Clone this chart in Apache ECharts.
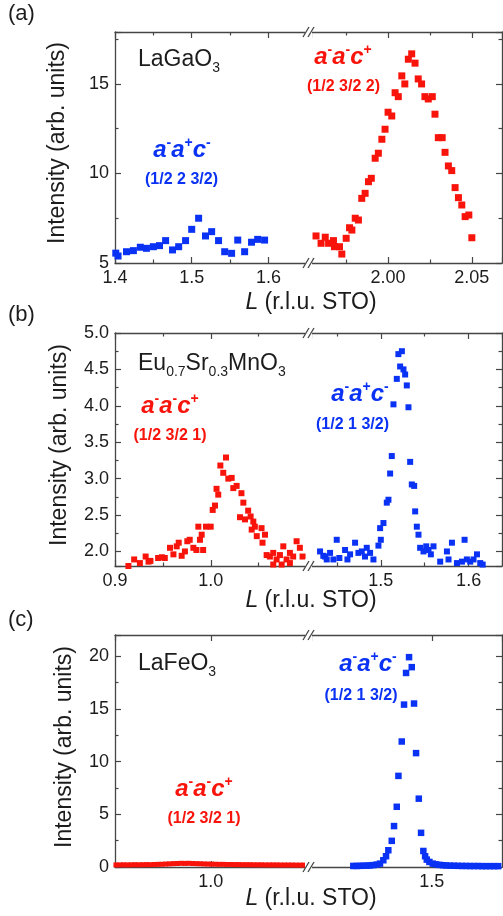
<!DOCTYPE html>
<html>
<head>
<meta charset="utf-8">
<script src="https://cdn.jsdelivr.net/npm/echarts@6/dist/echarts.min.js"></script>
<style>
html, body { margin: 0; padding: 0; background: #fff; }
#chart { width: 503px; height: 916px; }
</style>
</head>
<body>
<div id="chart"></div>
<script>
// colours / font
var FONT = '"Liberation Sans", Arial, Helvetica, sans-serif';
var RED = '#f8140b', BLUE = '#0a32f4', AX = '#454545', TXT = '#1c1c1c';

// (a) LaGaO3 : L and intensity
var aBlueL = [1.401,1.404,1.415,1.424,1.433,1.441,1.450,1.458,1.466,1.475,1.483,1.492,1.500,1.509,1.518,1.526,1.535,1.543,1.552,1.560,1.569,1.578,1.586,1.595];
var aBlueI = [5.55,5.39,5.63,5.69,5.88,5.82,5.91,5.97,6.25,5.73,5.91,6.25,6.88,7.50,6.51,6.75,6.25,5.63,5.54,6.28,5.63,6.16,6.32,6.28];
var aRedL = [1.957,1.960,1.9625,1.9645,1.9674,1.968,1.971,1.9724,1.975,1.977,1.9784,1.9804,1.9823,1.9843,1.9863,1.9883,1.990,1.9923,1.9942,1.9963,1.9982,2.000,2.0022,2.0042,2.0061,2.0082,2.010,2.0121,2.0141,2.0161,2.018,2.020,2.022,2.024,2.0264,2.028,2.030,2.0323,2.034,2.036,2.038,2.040,2.042,2.044,2.046,2.0482,2.050];
var aRedI = [6.51,6.10,6.44,6.10,6.25,5.91,5.91,5.50,6.38,6.97,6.84,7.50,7.40,8.61,8.89,9.54,9.73,10.85,11.13,11.91,12.47,13.42,13.21,14.51,14.29,15.45,15.00,16.38,16.68,16.16,15.28,15.00,14.29,14.16,14.29,13.31,12.00,12.00,11.18,10.42,10.16,9.21,8.65,8.24,7.59,7.68,6.41];

// (b) Eu0.7Sr0.3MnO3
var bRedL = [0.914,0.920,0.926,0.932,0.935,0.937,0.945,0.949,0.952,0.9574,0.961,0.9644,0.9665,0.9696,0.973,0.9755,0.978,0.9818,0.985,0.987,0.9887,0.9905,0.992,0.995,0.9999,1.002,1.0044,1.006,1.0078,1.010,1.013,1.0159,1.0183,1.0218,1.0235,1.027,1.0305,1.032,1.034,1.0357,1.039,1.0416,1.0427,1.0444,1.046,1.048,1.053,1.054,1.0566,1.0583,1.0617,1.0652,1.0652,1.0687,1.0722,1.074,1.0757,1.0791,1.0826,1.0826,1.086,1.0896,1.093,1.0958];
var bRedI = [1.80,1.89,1.84,1.93,1.86,1.87,1.91,1.92,1.91,2.05,1.96,2.07,2.12,1.94,2.00,2.14,2.16,2.05,2.02,2.34,2.16,2.23,2.02,2.34,2.34,2.57,2.63,2.86,2.78,3.18,3.08,3.29,3.00,3.01,2.87,2.90,2.47,2.80,2.67,2.44,2.56,2.48,2.30,2.41,2.34,2.21,2.32,2.12,2.23,1.95,1.93,1.98,1.82,1.89,1.95,1.82,2.07,1.89,1.98,1.84,1.93,2.14,2.05,1.93];
var bBlueL = [1.4308,1.4345,1.4365,1.4384,1.4422,1.446,1.4498,1.4528,1.4593,1.462,1.465,1.4707,1.4745,1.4783,1.482,1.484,1.4878,1.4916,1.4973,1.4992,1.500,1.503,1.5068,1.5087,1.5106,1.5125,1.5144,1.5182,1.520,1.522,1.524,1.5258,1.5277,1.5296,1.5315,1.5334,1.5353,1.538,1.5391,1.541,1.5429,1.5448,1.5486,1.5517,1.5543,1.557,1.560,1.5676,1.5753,1.5771,1.581,1.5867,1.5924,1.5954,1.598,1.6018,1.6056,1.6095,1.6132,1.616];
var bBlueI = [2.00,1.94,1.93,1.89,1.98,1.89,2.16,1.91,2.02,1.89,1.96,2.12,1.98,2.00,1.93,2.05,1.98,1.89,2.08,2.32,2.16,2.39,2.67,2.71,3.07,3.31,4.02,4.37,4.71,4.54,4.75,4.50,4.43,4.28,3.98,3.23,2.92,2.90,2.55,2.34,2.23,2.05,2.00,2.07,2.02,1.96,2.07,1.86,2.00,1.89,2.12,1.84,1.86,2.16,1.89,1.86,1.89,1.96,1.84,1.82];

// (c) LaFeO3
var cRedL = [0.901,0.905,0.909,0.913,0.917,0.921,0.925,0.929,0.933,0.937,0.941,0.945,0.949,0.953,0.957,0.961,0.965,0.969,0.973,0.977,0.981,0.985,0.989,0.993,0.997,1.001,1.005,1.009,1.013,1.017,1.021,1.025,1.029,1.033,1.037,1.041,1.045,1.049,1.053,1.057,1.061,1.065,1.069,1.073,1.077,1.081,1.085,1.089,1.093,1.097];
var cRedI = [0.20,0.20,0.21,0.20,0.21,0.22,0.21,0.22,0.23,0.22,0.24,0.25,0.26,0.28,0.30,0.32,0.33,0.35,0.34,0.35,0.33,0.32,0.31,0.29,0.28,0.27,0.26,0.25,0.25,0.24,0.24,0.23,0.23,0.22,0.22,0.22,0.21,0.21,0.21,0.20,0.20,0.20,0.20,0.19,0.19,0.19,0.19,0.18,0.18,0.18];
var cBlueL = [1.4106,1.4145,1.4182,1.4220,1.4259,1.4296,1.4334,1.4373,1.4410,1.4448,1.4479,1.4505,1.4544,1.4570,1.4601,1.4620,1.4658,1.4684,1.4707,1.4741,1.4772,1.4798,1.4821,1.4852,1.4878,1.4904,1.4924,1.4943,1.4973,1.5011,1.5049,1.5087,1.5125,1.5163,1.5209,1.5254,1.5300,1.5346,1.5391,1.5437,1.5482,1.5528,1.5574,1.5619,1.5665,1.5710,1.5756,1.5802];
var cBlueI = [0.10,0.10,0.11,0.12,0.13,0.15,0.18,0.23,0.32,0.64,1.02,1.59,2.48,3.88,5.71,8.64,11.9,15.4,18.4,19.9,18.95,15.5,10.8,6.48,3.24,1.52,1.02,0.70,0.48,0.32,0.25,0.20,0.17,0.15,0.13,0.12,0.11,0.10,0.10,0.09,0.09,0.09,0.08,0.08,0.08,0.08,0.08,0.08];

function zip(xs, ys) {
	return xs.map(function (x, i) { return [x, ys[i]]; });
}

// layout of the three panels (left part / right part of the broken axis)
var LEFT = 115, BREAK_L = 306, BREAK_R = 311, RIGHT = 502;
var panels = [
	{top: 32, height: 231, y: [5, 17.9], yStep: 5, yDec: 0,
	 xl: [1.4, 1.649], xlStep: 0.1, xlDec: 1, xr: [1.954, 2.068], xrStep: 0.05, xrDec: 2, xMinor: true,
	 ls: zip(aBlueL, aBlueI), lc: BLUE, lsz: 7, rs: zip(aRedL, aRedI), rc: RED, rsz: 7},
	{top: 333, height: 233, y: [1.8, 5.0], yStep: 0.5, yDec: 1,
	 xl: [0.9, 1.0994], xlStep: 0.1, xlDec: 1, xr: [1.4205, 1.638], xrStep: 0.1, xrDec: 1, xMinor: true,
	 ls: zip(bRedL, bRedI), lc: RED, lsz: 6, rs: zip(bBlueL, bBlueI), rc: BLUE, rsz: 6},
	{top: 635, height: 232, y: [0, 22], yStep: 5, yDec: 0,
	 xl: [0.9, 1.0994], xlStep: 0.5, xlDec: 1, xr: [1.3624, 1.58], xrStep: 0.5, xrDec: 1, xMinor: false,
	 ls: zip(cRedL, cRedI), lc: RED, lsz: 5, rs: zip(cBlueL, cBlueI), rc: BLUE, rsz: 6.5}
];

function isNice(v, step) {
	return Math.abs(v / step - Math.round(v / step)) < 1e-6;
}

function axis(gi, pos, range, step, dec, minor, labels) {
	return {
		type: 'value', gridIndex: gi, position: pos,
		min: range[0], max: range[1], minInterval: step, maxInterval: step,
		axisLine: {show: true, onZero: false, lineStyle: {color: AX, width: 1.3}},
		axisTick: {show: true, inside: true, length: 6, lineStyle: {color: AX, width: 1.2}},
		minorTick: {show: minor, splitNumber: 2, length: 3.5, lineStyle: {color: AX, width: 1.2}},
		splitLine: {show: false}, minorSplitLine: {show: false},
		axisLabel: {
			show: labels, fontSize: 18, fontFamily: FONT, color: TXT, margin: 6,
			showMinLabel: isNice(range[0], step), showMaxLabel: isNice(range[1], step),
			formatter: function (v) { return v.toFixed(dec); }
		}
	};
}

var option = {animation: false, backgroundColor: '#fff', grid: [], xAxis: [], yAxis: [], series: [], graphic: []};

panels.forEach(function (p) {
	var g = option.grid.length;
	option.grid.push({left: LEFT, top: p.top, width: BREAK_L - LEFT, height: p.height, outerBoundsMode: 'none'});
	option.grid.push({left: BREAK_R, top: p.top, width: RIGHT - BREAK_R, height: p.height, outerBoundsMode: 'none'});

	var xi = option.xAxis.length, yi = option.yAxis.length;
	option.xAxis.push(axis(g, 'bottom', p.xl, p.xlStep, p.xlDec, p.xMinor, true));
	option.xAxis.push(axis(g, 'top', p.xl, p.xlStep, p.xlDec, p.xMinor, false));
	option.xAxis.push(axis(g + 1, 'bottom', p.xr, p.xrStep, p.xrDec, p.xMinor, true));
	option.xAxis.push(axis(g + 1, 'top', p.xr, p.xrStep, p.xrDec, p.xMinor, false));
	option.yAxis.push(axis(g, 'left', p.y, p.yStep, p.yDec, true, true));
	option.yAxis.push(axis(g + 1, 'right', p.y, p.yStep, p.yDec, true, false));

	option.series.push({type: 'scatter', xAxisIndex: xi, yAxisIndex: yi, data: p.ls,
		symbol: 'rect', symbolSize: p.lsz, itemStyle: {color: p.lc, opacity: 1}});
	option.series.push({type: 'scatter', xAxisIndex: xi + 2, yAxisIndex: yi + 1, data: p.rs,
		symbol: 'rect', symbolSize: p.rsz, itemStyle: {color: p.rc, opacity: 1}});

	// axis break marks "//" on top and bottom
	[p.top, p.top + p.height].forEach(function (yb) {
		option.graphic.push({type: 'rect', z: 100, shape: {x: 305, y: yb - 7, width: 7, height: 14}, style: {fill: '#fff'}});
		[BREAK_L, BREAK_R].forEach(function (cx) {
			option.graphic.push({type: 'line', z: 101, shape: {x1: cx - 3, y1: yb + 5, x2: cx + 3, y2: yb - 5},
				style: {stroke: AX, lineWidth: 1.3}});
		});
	});
});

// texts
function txt(x, y, text, size, color, extra) {
	var st = {text: text, fontSize: size, fontFamily: FONT, fill: color, align: 'center', verticalAlign: 'middle'};
	for (var k in extra) st[k] = extra[k];
	return {type: 'text', x: x, y: y, z: 110, style: st};
}
function phase(x, y, signs, color) {
	return txt(x, y, '{m|a}{s|' + signs[0] + '}{m|a}{s|' + signs[1] + '}{m|c}{s|' + signs[2] + '}', 24, color, {
		rich: {
			m: {fontSize: 24, fontWeight: 'bold', fontStyle: 'italic', fontFamily: FONT, fill: color, lineHeight: 28},
			s: {fontSize: 14, fontWeight: 'bold', fontFamily: FONT, fill: color, verticalAlign: 'top', lineHeight: 14}
		}
	});
}
function formula(x, y, parts) {
	var s = parts.map(function (t, i) { return (i % 2 ? '{u|' : '{m|') + t + '}'; }).join('');
	return txt(x, y, s, 23, TXT, {
		align: 'left',
		rich: {
			m: {fontSize: 23, fontFamily: FONT, fill: TXT, lineHeight: 30},
			u: {fontSize: 14, fontFamily: FONT, fill: TXT, verticalAlign: 'bottom', lineHeight: 14}
		}
	});
}
function hkl(x, y, s, color) {
	return txt(x, y, s, 16, color, {fontWeight: 'bold'});
}
function xTitle(y) {
	return txt(311, y, '{i|L}{n| (r.l.u. STO)}', 23, TXT, {
		rich: {
			i: {fontSize: 23, fontStyle: 'italic', fontFamily: FONT, fill: TXT},
			n: {fontSize: 23, fontFamily: FONT, fill: TXT}
		}
	});
}
function yTitle(x, y) {
	var t = txt(0, 0, 'Intensity (arb. units)', 23, TXT, {});
	t.x = x; t.y = y; t.rotation = Math.PI / 2;
	return t;
}

option.graphic.push(
	txt(8, 14, '(a)', 22, TXT, {align: 'left'}),
	txt(8, 315, '(b)', 22, TXT, {align: 'left'}),
	txt(8, 620, '(c)', 22, TXT, {align: 'left'}),
	yTitle(57.5, 143), yTitle(60, 445), yTitle(65, 747),
	xTitle(303), xTitle(601), xTitle(899),
	formula(138, 60, ['LaGaO', '3']),
	formula(138, 364, ['Eu', '0.7', 'Sr', '0.3', 'MnO', '3']),
	formula(138, 664, ['LaFeO', '3']),
	phase(343, 57, ['-', '-', '+'], RED), hkl(343.5, 87, '(1/2 3/2 2)', RED),
	phase(182, 150, ['-', '+', '-'], BLUE), hkl(181.5, 180, '(1/2 2 3/2)', BLUE),
	phase(170, 406, ['-', '-', '+'], RED), hkl(170, 436, '(1/2 3/2 1)', RED),
	phase(360, 394, ['-', '+', '-'], BLUE), hkl(352.5, 425, '(1/2 1 3/2)', BLUE),
	phase(368, 664, ['-', '+', '-'], BLUE), hkl(361, 696, '(1/2 1 3/2)', BLUE),
	phase(204, 789, ['-', '-', '+'], RED), hkl(204, 819, '(1/2 3/2 1)', RED)
);

var chart = echarts.init(document.getElementById('chart'));
chart.setOption(option);
</script>
</body>
</html>
